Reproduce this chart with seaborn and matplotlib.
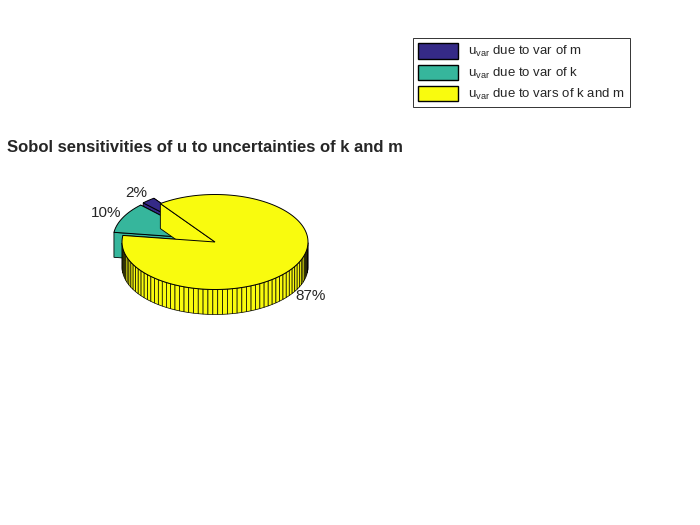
import numpy as np
import matplotlib
matplotlib.use("Agg")
import matplotlib.pyplot as plt
from matplotlib.patches import Polygon, Patch
import seaborn as sns

sns.set_style("white")
plt.rcParams['font.family'] = ['Liberation Sans', 'DejaVu Sans']

# data
labels = [r'$\mathregular{u_{var}}$ due to var of m',
          r'$\mathregular{u_{var}}$ due to var of k',
          r'$\mathregular{u_{var}}$ due to vars of k and m']
values = [0.024, 0.104, 0.872]
pct_text = ['2%', '10%', '87%']
explode = [1, 1, 0]
colors = ['#352a87', '#36b69c', '#f9fb0e']

cx, cy, rx, ry, depth = 215, 242, 93, 47.5, 25
start = 126.0

fig = plt.figure(figsize=(7, 5.25), dpi=100)
ax = fig.add_axes([0, 0, 1, 1])
ax.set_xlim(0, 700)
ax.set_ylim(525, 0)
ax.axis('off')

def pt(a, ox, oy, dz=0, r=1.0):
    t = np.radians(a)
    return (cx + ox + r * rx * np.cos(t), cy + oy - r * ry * np.sin(t) + dz)

angles = start + 360 * np.concatenate([[0], np.cumsum(values)])
slices = []
for i, v in enumerate(values):
    a0, a1 = angles[i], angles[i + 1]
    mid = (a0 + a1) / 2
    ox = explode[i] * 10 * np.cos(np.radians(mid))
    oy = -explode[i] * 7 * np.sin(np.radians(mid))
    slices.append((a0, a1, mid, ox, oy))

order = sorted(range(len(values)), key=lambda i: -np.sin(np.radians(slices[i][2])) if explode[i] else 10)
for i in order:
    a0, a1, mid, ox, oy = slices[i]
    c = colors[i]
    # radial faces
    for a in (a0, a1):
        p_top = pt(a, ox, oy)
        ctr = (cx + ox, cy + oy)
        ax.add_patch(Polygon([ctr, p_top, (p_top[0], p_top[1] + depth), (ctr[0], ctr[1] + depth)],
                             facecolor=c, edgecolor='k', lw=0.6))
    # outer wall
    n = max(2, int((a1 - a0) / 3))
    aa = np.linspace(a0, a1, n + 1)
    for s, e in zip(aa[:-1], aa[1:]):
        if np.sin(np.radians((s + e) / 2)) < 0:
            p1, p2 = pt(s, ox, oy), pt(e, ox, oy)
            ax.add_patch(Polygon([p1, p2, (p2[0], p2[1] + depth), (p1[0], p1[1] + depth)],
                                 facecolor=c, edgecolor='k', lw=0.5))
    # top
    arc = [pt(a, ox, oy) for a in np.linspace(a0, a1, 200)]
    ax.add_patch(Polygon([(cx + ox, cy + oy)] + arc, facecolor=c, edgecolor='k', lw=0.7))
    # label
    lx, ly = pt(mid, ox, oy, r=1.2)
    if np.sin(np.radians(mid)) < 0:
        ly += depth
    ax.text(lx, ly, pct_text[i], fontsize=11, ha='center', va='center')

ax.text(205, 148, 'Sobol sensitivities of u to uncertainties of k and m',
        fontsize=12, fontweight='bold', ha='center', va='center')

handles = [Patch(facecolor=c, edgecolor='k') for c in colors]
leg = fig.legend(handles, labels, loc='upper left', bbox_to_anchor=(413 / 700, 1 - 38 / 525),
                 fontsize=9.5, frameon=True, fancybox=False, edgecolor='k',
                 handlelength=3, handleheight=1.4, borderaxespad=0, labelspacing=0.4)
leg.get_frame().set_linewidth(0.7)

fig.savefig('out.png', dpi=100)
